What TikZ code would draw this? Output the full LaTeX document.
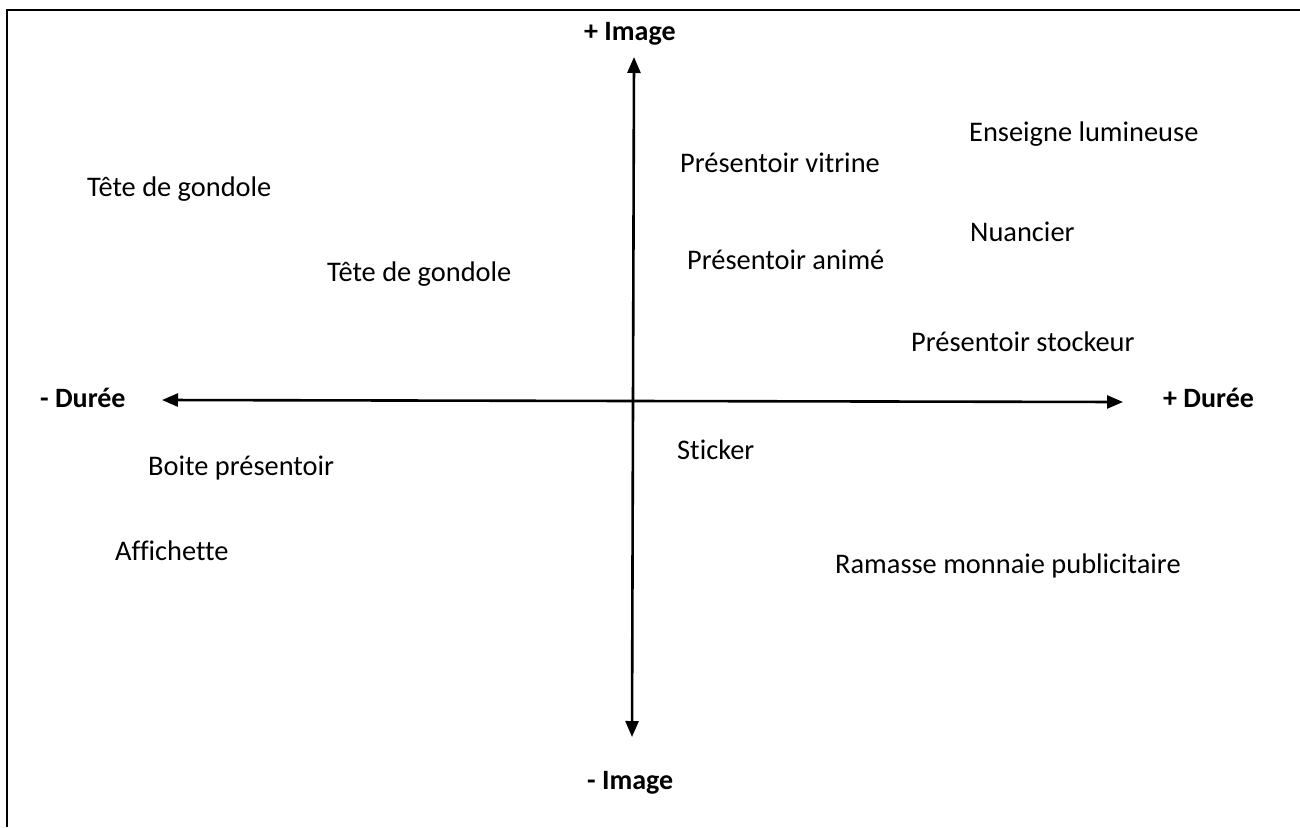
\documentclass[tikz,border=0pt]{standalone}
\usepackage{fontspec}
\setmainfont[Ligatures=NoCommon]{Carlito}
\usetikzlibrary{arrows.meta}
\begin{document}
\begin{tikzpicture}[x=1pt,y=-1pt,
  item/.style={anchor=base west,inner sep=0pt,font=\fontsize{28.4}{33}\selectfont},
  axislabel/.style={anchor=base west,inner sep=0pt,font=\fontsize{28}{33}\selectfont\bfseries},
  axis/.style={line width=2.6pt,-{Triangle[length=16pt,width=13pt]}}]
\useasboundingbox (0,0) rectangle (1300,827);
% frame on the left and top
\draw[line width=1.4pt] (7,827) -- (7,10) -- (1300,10);

% axis end points
\coordinate (top) at (634,57);
\coordinate (bottom) at (632,737);
\coordinate (left) at (162,400);
\coordinate (right) at (1123,402);
\coordinate (origin) at (633,401);

\draw[axis] (origin) -- (top);
\draw[axis] (origin) -- (bottom);
\draw[axis] (origin) -- (left);
\draw[axis] (origin) -- (right);

% axis labels
\node[axislabel] (imgplus) at (584,40) {+ Image};
\node[axislabel] (imgminus) at (587,789) {- Image};
\node[axislabel] (durminus) at (40,407) {- Durée};
\node[axislabel] (durplus) at (1163,407) {+ Durée};

% positioned items
\node[item] (enseigne) at (969,141) {Enseigne lumineuse};
\node[item] (vitrine) at (680,172) {Présentoir vitrine};
\node[item] (gondoleA) at (87,196) {Tête de gondole};
\node[item] (nuancier) at (970,241) {Nuancier};
\node[item] (anime) at (687,269) {Présentoir animé};
\node[item] (gondoleB) at (327,281) {Tête de gondole};
\node[item] (stockeur) at (911,351) {Présentoir stockeur};
\node[item] (sticker) at (677,459) {Sticker};
\node[item] (boite) at (148,475) {Boite présentoir};
\node[item] (affichette) at (115,560) {Affichette};
\node[item] (ramasse) at (835,573) {Ramasse monnaie publicitaire};
\end{tikzpicture}
\end{document}
